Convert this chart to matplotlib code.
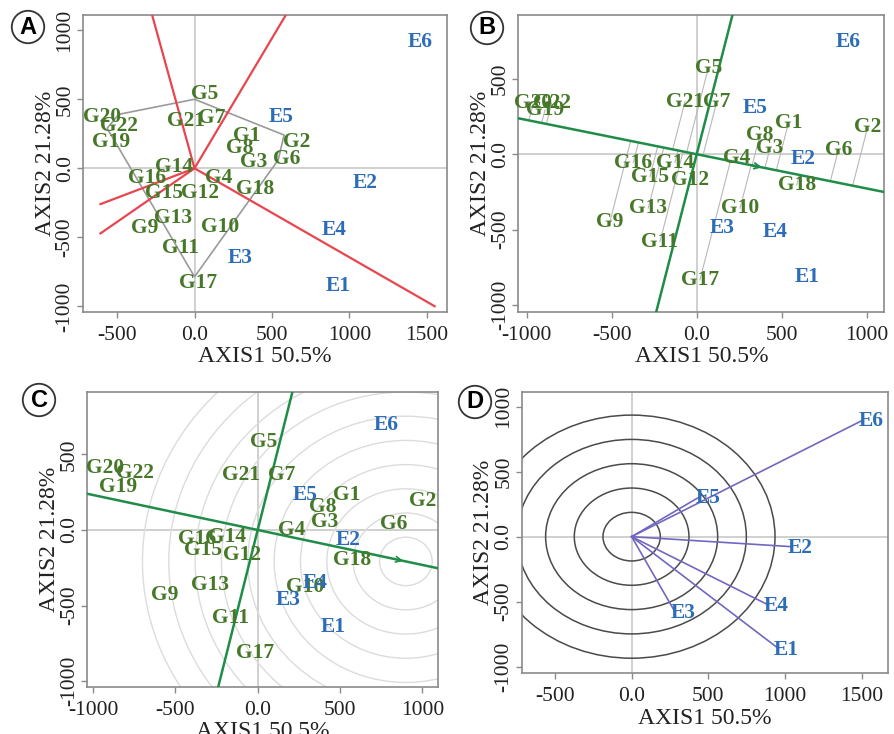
import matplotlib
matplotlib.use('Agg')
import matplotlib.pyplot as plt
import numpy as np
from matplotlib.patches import Circle
from matplotlib.ticker import FuncFormatter

# ---------------- data ----------------
genotypes = ['G1', 'G2', 'G3', 'G4', 'G5', 'G6', 'G7', 'G8', 'G9', 'G10', 'G11',
             'G12', 'G13', 'G14', 'G15', 'G16', 'G17', 'G18', 'G19', 'G20', 'G21', 'G22']
environments = ['E1', 'E2', 'E3', 'E4', 'E5', 'E6']

# Panel A (which-won-where)
A_gx = [337, 659, 380, 155, 62, 595, 112, 290, -324, 165, -92, 37, -139, -135, -200, -307, 26, 391, -536, -596, -53, -489]
A_gy = [234, 193, 48, -72, 536, 65, 362, 145, -435, -423, -580, -181, -362, 12, -177, -72, -833, -152, 193, 374, 345, 307]
A_ex = [927, 1099, 294, 901, 558, 1458]
A_ey = [-853, -104, -652, -447, 374, 918]
A_hull_x = [-489, 0, 578, 540, 0, -564]
A_hull_y = [391, 500, 241, 60, -785, 290]
A_ray_x = [-274, 590, 1550, -607, -607]
A_ray_y = [1111, 1111, -998, -259, -471]

# Panel B (mean vs. stability)
B_gx = [539, 1006, 431, 235, 68, 833, 118, 372, -510, 255, -216, -39, -285, -128, -275, -373, 19, 588, -892, -961, -69, -853]
B_gy = [206, 183, 40, -27, 571, 29, 349, 128, -447, -358, -580, -171, -358, -56, -149, -56, -834, -204, 294, 338, 349, 338]
B_ex = [647, 627, 147, 461, 343, 892]
B_ey = [-812, -33, -491, -514, 305, 747]
B_aec = [400, -91]

# Panel C (ideal genotype ranking)
C_gx = [540, 1002, 409, 206, 34, 823, 146, 398, -563, 288, -168, -97, -290, -188, -330, -370, -16, 571, -846, -927, -103, -745]
C_gy = [231, 192, 55, 0, 580, 38, 364, 154, -430, -375, -580, -165, -364, -44, -132, -59, -815, -198, 286, 408, 364, 375]
C_ex = [459, 550, 186, 348, 287, 779]
C_ey = [-639, -66, -463, -352, 231, 694]
C_ideal = [900, -208]
C_ring_step = 160
C_ring_count = 10

# Panel D (discriminativeness vs. representativeness)
D_ex = [956, 1044, 282, 891, 446, 1511]
D_ey = [-859, -77, -577, -525, 308, 898]
D_ring_step = 187
D_ring_count = 5

# ---------------- style ----------------
GREEN_TXT = '#477829'
BLUE_TXT = '#2d6db8'
RED = '#e8464f'
GREEN_LINE = '#1f8c48'
GRAY = '#9a9a9a'
SERIF = 'Liberation Serif'
LABEL_FS = 15.5

fig = plt.figure(figsize=(8.95, 7.34), dpi=100)

def fmt(v, pos):
    return '0.0' if abs(v) < 1e-9 else f'{int(round(v))}'

def setup(ax, xlim, ylim, xticks, yticks):
    ax.set_xlim(*xlim)
    ax.set_ylim(*ylim)
    ax.axhline(0, color='#c4c4c4', lw=1.1, zorder=0)
    ax.axvline(0, color='#c4c4c4', lw=1.1, zorder=0)
    ax.set_xticks(xticks)
    ax.set_yticks(yticks)
    ax.xaxis.set_major_formatter(FuncFormatter(fmt))
    ax.yaxis.set_major_formatter(FuncFormatter(fmt))
    ax.tick_params(length=4, width=1, color='#8a8a8a', labelsize=15.5,
                   labelcolor='#222222')
    ax.tick_params(axis='x', pad=6)
    ax.tick_params(axis='y', labelrotation=90, pad=2)
    for lab in ax.get_yticklabels():
        lab.set_va('center')
        lab.set_family(SERIF)
    for lab in ax.get_xticklabels():
        lab.set_family(SERIF)
    ax.set_xlabel('AXIS1 50.5%', fontsize=17, family=SERIF, color='#222222', labelpad=1)
    ax.set_ylabel('AXIS2 21.28%', fontsize=17, family=SERIF, color='#222222', labelpad=0)
    for sp in ax.spines.values():
        sp.set_color('#8a8a8a')
        sp.set_linewidth(1.2)

def labels(ax, xs, ys, names, color, zorder=5):
    for x, y, n in zip(xs, ys, names):
        ax.text(x, y, n, color=color, fontsize=LABEL_FS, weight='bold', family=SERIF,
                ha='center', va='center', zorder=zorder)

def panel_letter(px, py, letter):
    fig.text(px / 895, 1 - py / 734, letter, fontsize=17, weight='bold',
             family='Liberation Sans', ha='center', va='center',
             bbox=dict(boxstyle='circle,pad=0.2', fc='white', ec='#333333', lw=1.3))

# ---------------- Panel A ----------------
axA = fig.add_axes([83 / 895, 1 - 312 / 734, 364 / 895, 297 / 734])
setup(axA, (-720, 1630), (-1040, 1110), [-500, 0, 500, 1000, 1500], [-1000, -500, 0, 500, 1000])
hx = A_hull_x + A_hull_x[:1]
hy = A_hull_y + A_hull_y[:1]
axA.plot(hx, hy, color=GRAY, lw=1.2, zorder=2)
for rx, ry in zip(A_ray_x, A_ray_y):
    axA.plot([0, rx], [0, ry], color=RED, lw=1.6, zorder=3)
labels(axA, A_gx, A_gy, genotypes, GREEN_TXT)
labels(axA, A_ex, A_ey, environments, BLUE_TXT)

# ---------------- Panel B ----------------
axB = fig.add_axes([518.3 / 895, 1 - 311.7 / 734, 366 / 895, 296.7 / 734])
setup(axB, (-1049, 1103), (-1045, 924), [-1000, -500, 0, 500, 1000], [-1000, -500, 0, 500])
u = np.array(B_aec, dtype=float)
u /= np.linalg.norm(u)
axB.axline((0, 0), (B_aec[0], B_aec[1]), color=GREEN_LINE, lw=1.8, zorder=3)
axB.axline((0, 0), (-u[1], u[0]), color=GREEN_LINE, lw=1.8, zorder=3)
for gx, gy in zip(B_gx, B_gy):
    p = np.array([gx, gy], dtype=float)
    f = p.dot(u) * u
    axB.plot([gx, f[0]], [gy, f[1]], color='#b8b8b8', lw=0.8, zorder=2)
axB.annotate('', xy=(B_aec[0], B_aec[1]), xytext=(B_aec[0] - 90 * u[0], B_aec[1] - 90 * u[1]),
             arrowprops=dict(arrowstyle='->', color=GREEN_LINE, lw=1.4), zorder=4)
labels(axB, B_gx, B_gy, genotypes, GREEN_TXT)
labels(axB, B_ex, B_ey, environments, BLUE_TXT)

# ---------------- Panel C ----------------
axC = fig.add_axes([87.3 / 895, 1 - 686.7 / 734, 351 / 895, 294.4 / 734])
setup(axC, (-1035, 1097), (-1036, 910), [-1000, -500, 0, 500, 1000], [-1000, -500, 0, 500])
for k in range(1, C_ring_count + 1):
    axC.add_patch(Circle((C_ideal[0], C_ideal[1]), k * C_ring_step, fill=False,
                         ec='#dcdcdc', lw=1.0, zorder=1))
axC.axline((0, 0), (C_ideal[0], C_ideal[1]), color=GREEN_LINE, lw=1.8, zorder=3)
axC.axline((0, 0), (-C_ideal[1], C_ideal[0]), color=GREEN_LINE, lw=1.8, zorder=3)
uc = np.array(C_ideal, dtype=float) / np.linalg.norm(C_ideal)
axC.annotate('', xy=(C_ideal[0], C_ideal[1]),
             xytext=(C_ideal[0] - 60 * uc[0], C_ideal[1] - 60 * uc[1]),
             arrowprops=dict(arrowstyle='->', color=GREEN_LINE, lw=1.2), zorder=4)
labels(axC, C_gx, C_gy, genotypes, GREEN_TXT)
labels(axC, C_ex, C_ey, environments, BLUE_TXT)

# ---------------- Panel D ----------------
axD = fig.add_axes([521.7 / 895, 1 - 673.3 / 734, 366 / 895, 281.6 / 734])
setup(axD, (-717, 1670), (-1051, 1115), [-500, 0, 500, 1000, 1500], [-1000, -500, 0, 500, 1000])
for k in range(1, D_ring_count + 1):
    axD.add_patch(Circle((0, 0), k * D_ring_step, fill=False, ec='#4a4a4a', lw=1.1, zorder=1))
for ex, ey, n in zip(D_ex, D_ey, environments):
    axD.plot([0, ex], [0, ey], color='#7068c0', lw=1.2, zorder=3)
    axD.annotate(n, (ex, ey), xytext=(6, -1), textcoords='offset points',
                 color=BLUE_TXT, fontsize=LABEL_FS, weight='bold', family=SERIF,
                 ha='center', va='center', zorder=5)

panel_letter(28, 27, 'A')
panel_letter(487, 28, 'B')
panel_letter(39, 400, 'C')
panel_letter(475, 402, 'D')

fig.savefig('out.png', dpi=100, facecolor='white')
